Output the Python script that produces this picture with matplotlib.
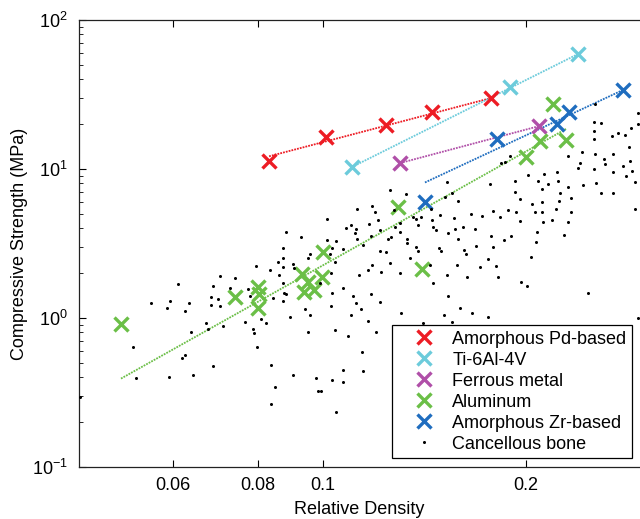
import matplotlib
matplotlib.use("Agg")
import matplotlib.pyplot as plt
import numpy as np
from matplotlib.ticker import FixedLocator, NullLocator, LogLocator, NullFormatter

plt.rcParams["font.family"] = ["Liberation Sans", "DejaVu Sans"]
plt.rcParams["font.size"] = 13

# scaffold series: relative density vs compressive strength (MPa)
pd_density = [0.0832, 0.1010, 0.1240, 0.1451, 0.1774]
pd_strength = [11.3, 16.4, 19.7, 24.1, 30.0]

ti_density = [0.1103, 0.1893, 0.2388]
ti_strength = [10.3, 35.5, 59.1]

fe_density = [0.1301, 0.2090]
fe_strength = [11.0, 19.4]

al_density = [0.0502, 0.0741, 0.0802, 0.0804, 0.0802, 0.0931, 0.0950, 0.0937,
              0.0970, 0.0997, 0.1000, 0.1292, 0.1401, 0.2000, 0.2097, 0.2292, 0.2192]
al_strength = [0.91, 1.38, 1.61, 1.45, 1.17, 1.97, 1.75, 1.50,
               1.54, 1.89, 2.77, 5.56, 2.13, 12.0, 15.4, 15.65, 27.3]

zr_density = [0.1416, 0.1811, 0.2222, 0.2315, 0.2782]
zr_strength = [6.00, 15.9, 20.05, 24.1, 33.9]

# power-law fits shown on the chart: strength = coef * density ** exponent
fit_coef = {"pd": 234.0, "ti": 1517.0, "fe": 128.0, "al": 785.0, "zr": 508.0}
fit_exponent = {"pd": 1.189, "ti": 2.265, "fe": 1.205, "al": 2.541, "zr": 2.116}

bone_density = [
    0.1014, 0.1123, 0.1182, 0.1257, 0.1328, 0.1527, 0.1553, 0.1585, 0.1517, 0.1768,
    0.1836, 0.1861, 0.1893, 0.1926, 0.1926, 0.1959, 0.2013, 0.2083, 0.2126, 0.2155,
    0.2111, 0.2222, 0.2230, 0.2307, 0.2307, 0.2245, 0.2237, 0.2331, 0.2404, 0.2388,
    0.2420, 0.2429, 0.2521, 0.2530, 0.2583, 0.2521, 0.2521, 0.2530, 0.2521, 0.2539,
    0.2583, 0.2609, 0.2618, 0.2681, 0.2690, 0.2690, 0.2690, 0.2735, 0.2801, 0.2782,
    0.2811, 0.2860, 0.2840, 0.2850, 0.2869, 0.2899, 0.2929, 0.2899, 0.2930,
    0.1014, 0.1031, 0.1046, 0.1071, 0.1081, 0.1100, 0.1120, 0.1116, 0.1123, 0.1147,
    0.1170, 0.1178, 0.1194, 0.1207, 0.1215, 0.1215, 0.1240, 0.1248, 0.1261, 0.1274,
    0.1279, 0.1301, 0.1301, 0.1332, 0.1332, 0.1346, 0.1360, 0.1373, 0.1383, 0.1397,
    0.1373, 0.1383, 0.1446, 0.1451, 0.1456, 0.1471, 0.1491, 0.1486, 0.1496, 0.1532,
    0.1570, 0.1564, 0.1585, 0.1612, 0.1618, 0.1629, 0.1657, 0.1680, 0.1686, 0.1721,
    0.1756, 0.1774, 0.1786, 0.1786, 0.1830, 0.1855, 0.1880, 0.1899, 0.1933, 0.1959,
    0.2034, 0.2041, 0.2062, 0.2069, 0.2076, 0.2111, 0.2111, 0.2119, 0.2185, 0.2214,
    0.2276, 0.2307, 0.2331,
    0.0882, 0.0928, 0.0873, 0.0957, 0.0873, 0.0950,
    0.1031, 0.1028, 0.1042, 0.1031, 0.1071, 0.1071, 0.1046, 0.1071, 0.1089, 0.1100,
    0.1107, 0.1120, 0.1139, 0.1143, 0.1147, 0.1131, 0.1166, 0.1166, 0.1178, 0.1182,
    0.1198, 0.1215, 0.1219, 0.1257, 0.1301, 0.1305, 0.1406, 0.1441, 0.1456, 0.1527,
    0.1532, 0.1511, 0.1553, 0.1580, 0.1596, 0.1634, 0.1662, 0.1709, 0.1756, 0.1818,
    0.1966, 0.2007, 0.2470, 0.2929, 0.0993, 0.1805,
    0.0436, 0.0523, 0.0529, 0.0556, 0.0587, 0.0593, 0.0610, 0.0624, 0.0633, 0.0637,
    0.0591, 0.0618, 0.0624, 0.0641, 0.0671, 0.0675, 0.0682, 0.0682, 0.0687, 0.0687,
    0.0699, 0.0704, 0.0704, 0.0711, 0.0728, 0.0741, 0.0767, 0.0774, 0.0780, 0.0788,
    0.0790, 0.0796, 0.0799, 0.0810, 0.0824, 0.0838, 0.0849, 0.0838, 0.0835, 0.0858,
    0.0861, 0.0873, 0.0873, 0.0876, 0.0873, 0.0882, 0.0894, 0.0903, 0.0906, 0.0903,
    0.0941, 0.0950, 0.0957, 0.0977, 0.0984, 0.0990, 0.0843, 0.1028, 0.1042, 0.1024,
]
bone_strength = [
    4.62, 5.39, 5.65, 7.23, 6.80, 8.18, 6.90, 6.10, 6.48, 7.93,
    10.97, 11.14, 12.22, 8.31, 7.01, 6.29, 9.12, 8.31, 9.26, 7.93,
    7.34, 9.55, 8.31, 12.22, 7.57, 6.90, 6.10, 6.38, 10.97, 10.16,
    13.0, 7.81, 20.68, 27.31, 20.36, 17.99, 15.89, 12.61, 10.0, 8.06,
    6.90, 11.67, 10.80, 16.65, 12.61, 9.55, 6.90, 17.44, 16.91, 10.48,
    8.98, 18.84, 14.05, 11.31, 9.70, 8.18, 23.76, 5.39, 20.0,
    3.34, 2.95, 3.29, 2.90, 4.02, 4.21, 3.96, 3.72, 3.39, 3.09,
    4.28, 3.55, 5.15, 4.55, 3.90, 2.82, 2.77, 3.39, 3.50, 5.31,
    4.08, 4.34, 3.78, 3.39, 3.19, 2.53, 4.77, 4.62, 4.21, 4.77,
    3.00, 2.82, 5.39, 4.55, 4.08, 3.90, 4.91, 2.95, 2.82, 3.72,
    3.96, 4.69, 3.39, 4.08, 2.86, 2.68, 4.99, 3.96, 3.04, 4.84,
    2.49, 3.55, 5.23, 3.00, 4.77, 3.34, 5.31, 3.55, 5.15, 4.48,
    2.57, 5.82, 5.15, 3.24, 3.78, 6.00, 5.15, 4.41, 4.55, 5.39,
    3.62, 4.41, 5.15,
    3.78, 3.50, 2.95, 2.68, 2.53, 2.53,
    1.47, 1.20, 0.831, 0.384, 0.448, 0.372, 0.234, 1.59, 0.757, 1.05,
    1.40, 1.26, 1.15, 0.591, 0.441, 1.94, 2.10, 0.955, 1.45, 2.27,
    0.806, 1.28, 2.04, 2.34, 2.00, 1.08, 0.926, 2.27, 1.72, 1.94,
    1.40, 1.05, 0.941, 2.27, 1.17, 1.89, 1.08, 2.20, 1.02, 1.89,
    1.75, 1.64, 1.47, 1.00, 0.324, 2.23,
    0.295, 0.639, 0.396, 1.26, 1.17, 1.30, 1.69, 1.11, 1.26, 0.806,
    0.402, 0.539, 0.565, 0.415, 0.926, 0.844, 1.38, 1.22, 1.64, 0.477,
    1.34, 1.20, 1.91, 0.884, 1.59, 1.86, 0.941, 1.56, 1.40, 0.844,
    0.793, 2.23, 0.639, 0.985, 0.926, 0.485, 0.345, 0.265, 2.10, 2.38,
    1.94, 2.20, 1.72, 1.47, 1.30, 1.45, 1.02, 2.31, 2.17, 0.415,
    1.15, 0.806, 1.04, 0.396, 0.324, 1.72, 1.36, 2.00, 2.38, 2.68,
]

x_ticks = [0.06, 0.08, 0.1, 0.2]
x_tick_labels = ["0.06", "0.08", "0.1", "0.2"]

SERIES = [
    ("pd", "Amorphous Pd-based", pd_density, pd_strength, "#ED1C24"),
    ("ti", "Ti-6Al-4V", ti_density, ti_strength, "#6CCBDB"),
    ("fe", "Ferrous metal", fe_density, fe_strength, "#B04FA8"),
    ("al", "Aluminum", al_density, al_strength, "#6BBF47"),
    ("zr", "Amorphous Zr-based", zr_density, zr_strength, "#1F6DBF"),
]

fig = plt.figure(figsize=(6.4, 5.19), dpi=100)
ax = fig.add_axes([79 / 640, 1 - 467 / 519, 561 / 640, 447 / 519])

for key, label, dens, stren, color in SERIES:
    xs = np.linspace(min(dens), max(dens), 50)
    ax.plot(xs, fit_coef[key] * xs ** fit_exponent[key], color=color,
            linewidth=1.3, linestyle=(0, (1, 0.6)), zorder=2)
    ax.plot(dens, stren, linestyle="none", marker="x", markersize=10,
            markeredgewidth=2.4, color=color, label=label, zorder=3)

ax.plot(bone_density, bone_strength, linestyle="none", marker="o", markersize=2.2,
        color="black", markeredgewidth=0, label="Cancellous bone", zorder=4)

ax.set_xscale("log")
ax.set_yscale("log")
ax.set_xlim(0.0435, 0.2949)
ax.set_ylim(0.1, 100)

ax.xaxis.set_major_locator(FixedLocator(x_ticks))
ax.set_xticklabels(x_tick_labels)
ax.xaxis.set_minor_locator(NullLocator())
ax.yaxis.set_major_locator(LogLocator(base=10))
ax.yaxis.set_minor_locator(LogLocator(base=10, subs=np.arange(2, 10)))
ax.yaxis.set_minor_formatter(NullFormatter())

ax.tick_params(axis="x", which="both", direction="in", top=True, bottom=True,
               length=5, width=0.8, pad=7)
ax.tick_params(axis="y", which="major", direction="in", left=True, right=False,
               length=5, width=0.8, pad=8)
ax.tick_params(axis="y", which="minor", direction="in", left=True, right=False,
               length=3, width=0.6)
ax.spines["right"].set_visible(False)
for side in ("left", "top", "bottom"):
    ax.spines[side].set_linewidth(0.9)
    ax.spines[side].set_color("#222222")

ax.set_xlabel("Relative Density", labelpad=5)
ax.set_ylabel("Compressive Strength (MPa)", labelpad=3)

leg = ax.legend(loc="lower right", bbox_to_anchor=(0.9857, 0.02), borderaxespad=0,
                fancybox=False, framealpha=1, edgecolor="black", fontsize=13,
                borderpad=0.3, labelspacing=0.22, handlelength=3.0,
                handletextpad=0.05, markerscale=1.0)
leg.get_frame().set_linewidth(0.9)

fig.savefig("out.png", dpi=100)
